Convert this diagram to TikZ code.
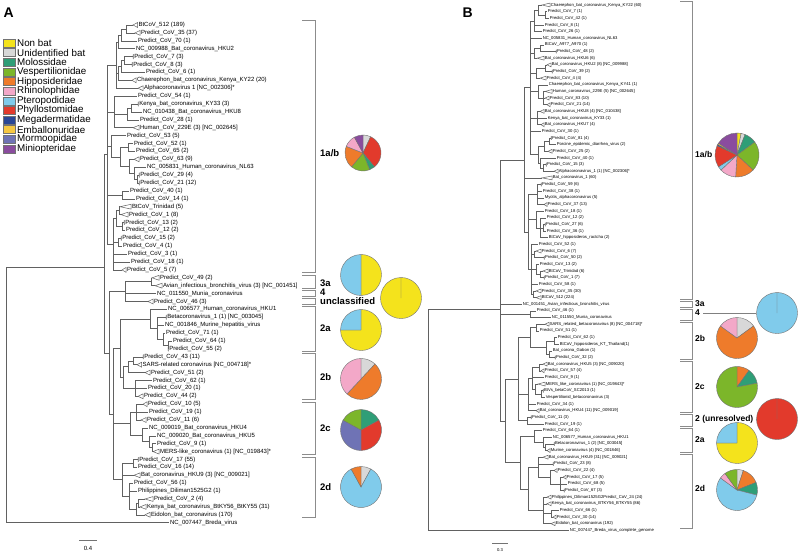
\documentclass[tikz,border=0pt]{standalone}
\usepackage{fontspec}
\setmainfont{Liberation Sans}
\usetikzlibrary{calc}
\definecolor{nonbat}{HTML}{F4E31C}
\definecolor{unid}{HTML}{D8D8D8}
\definecolor{moloss}{HTML}{2F9E77}
\definecolor{vesper}{HTML}{7CB62A}
\definecolor{hippo}{HTML}{EE7B2B}
\definecolor{rhino}{HTML}{F3A8C8}
\definecolor{ptero}{HTML}{80CBEB}
\definecolor{phyllo}{HTML}{E23A2C}
\definecolor{mega}{HTML}{2A4796}
\definecolor{emball}{HTML}{F6C842}
\definecolor{mormo}{HTML}{6F73B5}
\definecolor{minio}{HTML}{8A4C9E}
\tikzset{
 br/.style={draw=black!62, line width=0.5pt},
 tri/.style={draw=black!62, line width=0.5pt, fill=white},
 labA/.style={anchor=west, inner sep=0pt, font=\fontsize{6}{7}\selectfont},
 labB/.style={anchor=west, inner sep=0pt, font=\fontsize{4.2}{5}\selectfont},
 brk/.style={draw=black!45, line width=1pt},
 cladeA/.style={anchor=west, inner sep=0pt, font=\bfseries\fontsize{9.5}{10}\selectfont},
 cladeB/.style={anchor=west, inner sep=0pt, font=\bfseries\fontsize{8.5}{9}\selectfont},
 pieline/.style={draw=black!55, line width=0.4pt},
 legbox/.style={draw=black!55, line width=0.4pt, minimum width=12pt, minimum height=8pt, inner sep=0pt},
 legtxt/.style={anchor=west, inner sep=0pt, font=\fontsize{9.8}{11}\selectfont},
 panel/.style={font=\bfseries\fontsize{14}{16}\selectfont, inner sep=0pt},
 conn/.style={draw=black!50, line width=0.5pt},
 sbar/.style={draw=black!55, line width=1pt},
}
% A leaves: name, index, x, text
\newcommand\aL[4]{\coordinate (#1) at (#3,{-(25+(#2-1)*7.9)}); \node[labA] (#1t) at ($(#1)+(0.8,0)$) {#4};}
\newcommand\aT[5]{\coordinate (#1) at (#3,{-(25+(#2-1)*7.9)}); \draw[tri] (#1) -- ++(#4,2.4) -- ++(0,-4.8) -- cycle; \node[labA] (#1t) at ($(#1)+(#4+0.8,0)$) {#5};}
% B leaves
\newcommand\bL[4]{\coordinate (#1) at (#3,{-(5+(#2-1)*6.65)}); \node[labB] (#1t) at ($(#1)+(0.6,0)$) {#4};}
\newcommand\bT[5]{\coordinate (#1) at (#3,{-(5+(#2-1)*6.65)}); \draw[tri] (#1) -- ++(#4,1.9) -- ++(0,-3.8) -- cycle; \node[labB] (#1t) at ($(#1)+(#4+0.6,0)$) {#5};}
% internal node: name, x, first child, last child, children
\newcommand\NC[5]{\path let \p1=($(#3)!0.5!(#4)$) in coordinate (#1) at (#2pt,\y1);
  \foreach \ch in {#5}{\draw[br] (#1) |- (\ch);}}
% internal node at a given y: name, x, y, children
\newcommand\NY[4]{\coordinate (#1) at (#2,-#3);
  \foreach \ch in {#4}{\draw[br] (#1) |- (\ch);}}
\newcommand\BRK[4]{\draw[brk] (#2,-#3) -| (#1,-#4) -- (#2,-#4);}
\newcommand\PIE[5]{%
 \node[circle, inner sep=0pt, minimum size=#4*2pt] (#1) at (#2,-#3) {};
 \gdef\cum{0}%
 \foreach \pv/\pc in {#5}{%
   \pgfmathsetmacro\angA{90-3.6*\cum}%
   \pgfmathsetmacro\angB{90-3.6*(\cum+\pv)}%
   \filldraw[pieline, fill=\pc] (#1.center) -- ++(\angA:#4) arc[start angle=\angA, end angle=\angB, radius=#4] -- cycle;%
   \pgfmathsetmacro\cumn{\cum+\pv}%
   \global\let\cum\cumn}%
}
\begin{document}
\begin{tikzpicture}[x=1pt,y=1pt]
\useasboundingbox (0,0) rectangle (800,-553);
\fill[white] (0,0) rectangle (800,-553);
\node[panel, anchor=north west] (pA) at (3.5,-7.5) {A};
\node[panel, anchor=north west] (pB) at (462.5,-7.5) {B};
% legend
\foreach \i/\col/\txt in {0/nonbat/Non bat,1/unid/Unidentified bat,2/moloss/Molossidae,3/vesper/Vespertilionidae,4/hippo/Hipposideridae,5/rhino/Rhinolophidae,6/ptero/Pteropodidae,7/phyllo/Phyllostomidae,8/mega/Megadermatidae,9/emball/Emballonuridae,10/mormo/Mormoopidae,11/minio/Miniopteridae}{
  \node[legbox, fill=\col] (lb\i) at (9,{-(43+\i*9.63)}) {};
  \node[legtxt] (lt\i) at (17,{-(43+\i*9.63)}) {\txt};
}
% ---------------- Tree A ----------------
\aT{L1}{1}{133}{4.5}{BtCoV\_512 (189)}
\aT{L2}{2}{135}{5}{Predict\_CoV\_35 (37)}
\aL{L3}{3}{137}{Predict\_CoV\_70 (1)}
\aL{L4}{4}{135}{NC\_009988\_Bat\_coronavirus\_HKU2}
\aT{L5}{5}{133}{0.3}{Predict\_CoV\_7 (3)}
\aT{L6}{6}{132}{0.3}{Predict\_CoV\_8 (3)}
\aL{L7}{7}{145}{Predict\_CoV\_6 (1)}
\aT{L8}{8}{132}{4}{Chaerephon\_bat\_coronavirus\_Kenya\_KY22 (20)}
\aT{L9}{9}{138}{5}{Alphacoronavirus 1 [NC\_002306]*}
\aL{L10}{10}{137}{Predict\_CoV\_54 (1)}
\aT{L11}{11}{138}{0.3}{Kenya\_bat\_coronavirus\_KY33 (3)}
\aL{L12}{12}{142}{NC\_010438\_Bat\_coronavirus\_HKU8}
\aL{L13}{13}{139}{Predict\_CoV\_28 (1)}
\aT{L14}{14}{133}{6}{Human\_CoV\_229E (3) [NC\_002645]}
\aL{L15}{15}{126}{Predict\_CoV\_53 (5)}
\aL{L16}{16}{133}{Predict\_CoV\_52 (1)}
\aL{L17}{17}{135}{Predict\_CoV\_65 (2)}
\aT{L18}{18}{134}{5}{Predict\_CoV\_63 (9)}
\aL{L19}{19}{146}{NC\_005831\_Human\_coronavirus\_NL63}
\aT{L20}{20}{139}{0.3}{Predict\_CoV\_29 (4)}
\aT{L21}{21}{139}{0.3}{Predict\_CoV\_21 (12)}
\aL{L22}{22}{129}{Predict\_CoV\_40 (1)}
\aL{L23}{23}{135}{Predict\_CoV\_14 (1)}
\aT{L24}{24}{120}{11}{BtCoV\_Trinidad (5)}
\aT{L25}{25}{121}{7}{Predict\_CoV\_1 (8)}
\aT{L26}{26}{124}{0.3}{Predict\_CoV\_13 (2)}
\aL{L27}{27}{125}{Predict\_CoV\_12 (2)}
\aT{L28}{28}{121}{0.3}{Predict\_CoV\_15 (2)}
\aL{L29}{29}{122}{Predict\_CoV\_4 (1)}
\aL{L30}{30}{127}{Predict\_CoV\_3 (1)}
\aL{L31}{31}{130}{Predict\_CoV\_18 (1)}
\aT{L32}{32}{122}{4}{Predict\_CoV\_5 (7)}
\aT{L33}{33}{152}{7}{Predict\_CoV\_49 (2)}
\aT{L34}{34}{155}{7}{Avian\_infectious\_bronchitis\_virus (3) [NC\_001451]}
\aL{L35}{35}{156}{NC\_011550\_Munia\_coronavirus}
\aT{L36}{36}{148}{5}{Predict\_CoV\_46 (3)}
\aL{L37}{37}{167}{NC\_006577\_Human\_coronavirus\_HKU1}
\aT{L38}{38}{166}{0.3}{Betacoronavirus\_1 (1) [NC\_003045]}
\aL{L39}{39}{164}{NC\_001846\_Murine\_hepatitis\_virus}
\aL{L40}{40}{165}{Predict\_CoV\_71 (1)}
\aL{L41}{41}{172}{Predict\_CoV\_64 (1)}
\aT{L42}{42}{168}{0.3}{Predict\_CoV\_55 (2)}
\aT{L43}{43}{143}{0.3}{Predict\_CoV\_43 (11)}
\aT{L44}{44}{137}{4.5}{SARS-related coronavirus [NC\_004718]*}
\aT{L45}{45}{145}{5}{Predict\_CoV\_51 (2)}
\aL{L46}{46}{152}{Predict\_CoV\_62 (1)}
\aL{L47}{47}{147}{Predict\_CoV\_20 (1)}
\aT{L48}{48}{138}{5}{Predict\_CoV\_44 (2)}
\aT{L49}{49}{143}{4}{Predict\_CoV\_10 (5)}
\aL{L50}{50}{148}{Predict\_CoV\_19 (1)}
\aT{L51}{51}{141}{5}{Predict\_CoV\_11 (6)}
\aL{L52}{52}{148}{NC\_009019\_Bat\_coronavirus\_HKU4}
\aL{L53}{53}{156}{NC\_009020\_Bat\_coronavirus\_HKU5}
\aL{L54}{54}{156}{Predict\_CoV\_9 (1)}
\aT{L55}{55}{153}{6}{MERS-like\_coronavirus (1) [NC\_019843]*}
\aT{L56}{56}{138}{0.3}{Predict\_CoV\_17 (55)}
\aL{L57}{57}{137}{Predict\_CoV\_16 (14)}
\aT{L58}{58}{134}{6}{Bat\_coronavirus\_HKU9 (3) [NC\_009021]}
\aL{L59}{59}{133}{Predict\_CoV\_56 (1)}
\aL{L60}{60}{137}{Philippines\_Diliman1525G2 (1)}
\aT{L61}{61}{145}{8}{Predict\_CoV\_2 (4)}
\aT{L62}{62}{140}{6}{Kenya\_bat\_coronavirus\_BtKY56\_BtKY55 (31)}
\aT{L63}{63}{145}{5}{Eidolon\_bat\_coronavirus (170)}
\aL{L64}{64}{169}{NC\_007447\_Breda\_virus}
% internal A
\NC{a11}{126}{L1}{L2}{L1,L2}
\NC{a1a}{121}{a11}{L3}{a11,L3}
\NC{a1b}{118}{a1a}{L4}{a1a,L4}
\NC{a1c}{124}{L5}{L6}{L5,L6}
\NC{a1d}{121}{a1c}{L7}{a1c,L7}
\NC{a1e}{118}{a1d}{L8}{a1d,L8}
\NC{a1}{116}{a1b}{L9}{a1b,a1e,L9}
\NC{a2a}{131}{L11}{L12}{L11,L12}
\NC{a2b}{127}{a2a}{L13}{a2a,L13}
\NC{a2}{114}{L10}{L14}{L10,a2b,L14}
\NC{a3a}{128}{L16}{L17}{L16,L17}
\NC{a3b}{137}{L20}{L21}{L20,L21}
\NC{a3d}{134}{L19}{a3b}{L19,a3b}
\NC{a3c}{129}{L18}{a3d}{L18,a3d}
\NC{a3e}{120}{a3a}{a3c}{a3a,a3c}
\NC{a3}{111}{L15}{a3e}{L15,a3e}
\NC{a4a}{122}{L22}{L23}{L22,L23}
\NC{a4b}{119}{L24}{L25}{L24,L25}
\NC{a4c}{122}{L26}{L27}{L26,L27}
\NC{a4d}{116}{a4b}{a4c}{a4b,a4c}
\NC{a4e}{118}{L28}{L29}{L28,L29}
\NC{a4f}{113}{a4d}{L32}{a4d,a4e,L30,L31,L32}
\NC{nA}{107}{a1}{a4f}{a1,a2,a3,a4a,a4f}
\NC{g1}{151}{L33}{L34}{L33,L34}
\NC{nGD}{125}{g1}{L36}{g1,L35,L36}
\NC{b2a1}{168}{L41}{L42}{L41,L42}
\NC{b2a2}{163}{L40}{b2a1}{L40,b2a1}
\NC{b2a3}{157}{L38}{b2a2}{L38,L39,b2a2}
\NC{b2a}{150}{L37}{b2a3}{L37,b2a3}
\NC{b2b1}{133}{L43}{L44}{L43,L44}
\NC{b2b2}{128}{b2b1}{L45}{b2b1,L45}
\NC{b2b3}{135}{L46}{L48}{L46,L47,L48}
\NC{b2b}{123}{b2b2}{b2b3}{b2b2,b2b3}
\NC{b2c1}{136}{L49}{L51}{L49,L50,L51}
\NC{b2c2}{152}{L54}{L55}{L54,L55}
\NC{b2c3}{149}{L53}{b2c2}{L53,b2c2}
\NC{b2c4}{142}{L52}{b2c3}{L52,b2c3}
\NC{b2c}{130}{b2c1}{b2c4}{b2c1,b2c4}
\NC{b2d1}{133}{L56}{L57}{L56,L57}
\NC{b2d2}{138}{L61}{L62}{L61,L62}
\NC{b2d3}{136}{b2d2}{L63}{b2d2,L63}
\NC{b2d4}{129}{L59}{b2d3}{L59,L60,b2d3}
\NC{b2d}{122}{b2d1}{b2d4}{b2d1,L58,b2d4}
\NC{nB1}{120}{b2a}{b2b}{b2a,b2b}
\NC{nBeta}{113}{nB1}{b2d}{nB1,b2c,b2d}
\NC{nBGD}{109}{nGD}{nBeta}{nGD,nBeta}
\NY{nI}{104}{267}{nA,nBGD}
\NC{r0}{6}{nI}{L64}{nI,L64}
% brackets A
\BRK{315}{302}{21}{273}
\BRK{315}{302}{275.5}{288}
\BRK{315}{302}{290.5}{296.5}
\BRK{315}{302}{298.5}{304}
\BRK{315}{302}{306.5}{351}
\BRK{315}{302}{353.5}{399.5}
\BRK{315}{302}{402}{454.5}
\BRK{315}{302}{457}{517}
\node[cladeA] (cA1) at (320,-153) {1a/b};
\node[cladeA] (cA2) at (320,-283) {3a};
\node[cladeA] (cA3) at (320,-292.5) {4};
\node[cladeA] (cA4) at (320,-301.5) {unclassified};
\node[cladeA] (cA5) at (320,-328) {2a};
\node[cladeA] (cA6) at (320,-377) {2b};
\node[cladeA] (cA7) at (320,-428) {2c};
\node[cladeA] (cA8) at (320,-487) {2d};
\PIE{pA1}{363}{153}{18}{7/unid,32/phyllo,5/moloss,17/vesper,20/hippo,11/rhino,8/minio}
\PIE{pA2}{361}{275}{20.5}{50/nonbat,50/ptero}
\PIE{pA3}{401}{298}{20.5}{100/nonbat}
\PIE{pA4}{361}{330}{20.5}{75/nonbat,25/ptero}
\PIE{pA5}{361}{379}{20.5}{12/unid,50/hippo,38/rhino}
\PIE{pA6}{361}{430}{20.5}{17/moloss,33/phyllo,33/mormo,17/vesper}
\PIE{pA7}{361}{487}{20.5}{8/unid,84/ptero,8/hippo}
\coordinate (sa1) at (79,-540); \coordinate (sa2) at (97,-540);
\draw[sbar] (sa1) -- (sa2);
\node[labA, anchor=center] (sa) at (88,-548) {0.4};
% ---------------- Tree B ----------------
\bT{B1}{1}{542}{8}{Chaerephon\_bat\_coronavirus\_Kenya\_KY22 (60)}
\bL{B2}{2}{547}{Predict\_CoV\_7 (1)}
\bL{B3}{3}{549}{Predict\_CoV\_42 (1)}
\bL{B4}{4}{544}{Predict\_CoV\_8 (1)}
\bL{B5}{5}{542}{Predict\_CoV\_26 (1)}
\bL{B6}{6}{542}{NC\_005831\_Human\_coronavirus\_NL63}
\bL{B7}{7}{544}{BtCoV\_A977\_A970 (1)}
\bT{B8}{8}{556}{0.3}{Predict\_CoV\_48 (2)}
\bT{B9}{9}{537}{7}{Bat\_coronavirus\_HKU6 (6)}
\bT{B10}{10}{547}{4}{Bat\_coronavirus\_HKU2 (8) [NC\_009988]}
\bT{B11}{11}{552}{0.3}{Predict\_CoV\_39 (2)}
\bT{B12}{12}{540}{6}{Predict\_CoV\_4 (4)}
\bL{B13}{13}{548}{Chaerephon\_bat\_coronavirus\_Kenya\_KY41 (1)}
\bT{B14}{14}{545}{7}{Human\_coronavirus\_229E (5) [NC\_002645]}
\bT{B15}{15}{545}{4}{Predict\_CoV\_83 (10)}
\bT{B16}{16}{547}{3}{Predict\_CoV\_21 (14)}
\bT{B17}{17}{540}{4}{Bat\_coronavirus\_HKU8 (4) [NC\_010438]}
\bL{B18}{18}{547}{Kenya\_bat\_coronavirus\_KY33 (1)}
\bT{B19}{19}{541}{3}{Bat\_coronavirus\_HKU7 (4)}
\bL{B20}{20}{541}{Predict\_CoV\_30 (1)}
\bT{B21}{21}{551}{0.3}{Predict\_CoV\_81 (4)}
\bL{B22}{22}{556}{Porcine\_epidemic\_diarrhea\_virus (2)}
\bT{B23}{23}{548}{4}{Predict\_CoV\_25 (2)}
\bL{B24}{24}{556}{Predict\_CoV\_40 (1)}
\bT{B25}{25}{546}{0.3}{Predict\_CoV\_15 (3)}
\bT{B26}{26}{554}{4}{Alphacoronavirus\_1 (1) [NC\_002306]*}
\bT{B27}{27}{542}{10}{Bat\_coronavirus\_1 (60)}
\bT{B28}{28}{541}{0.3}{Predict\_CoV\_59 (6)}
\bL{B29}{29}{542}{Predict\_CoV\_38 (1)}
\bL{B30}{30}{544}{Myotis\_alphacoronavirus (5)}
\bT{B31}{31}{544}{3}{Predict\_CoV\_37 (13)}
\bL{B32}{32}{544}{Predict\_CoV\_18 (1)}
\bL{B33}{33}{546}{Predict\_CoV\_12 (2)}
\bT{B34}{34}{545}{0.3}{Predict\_CoV\_27 (6)}
\bL{B35}{35}{546}{Predict\_CoV\_36 (1)}
\bL{B36}{36}{548}{BtCoV\_hipposideros\_ractcha (2)}
\bL{B37}{37}{538}{Predict\_CoV\_52 (1)}
\bT{B38}{38}{536}{5}{Predict\_CoV\_6 (7)}
\bT{B39}{39}{544}{0.3}{Predict\_CoV\_50 (2)}
\bL{B40}{40}{539}{Predict\_CoV\_13 (2)}
\bT{B41}{41}{543}{5}{BtCoV\_Trinidad (6)}
\bT{B42}{42}{544}{0.3}{Predict\_CoV\_1 (7)}
\bL{B43}{43}{538}{Predict\_CoV\_58 (1)}
\bT{B44}{44}{536}{5}{Predict\_CoV\_35 (30)}
\bT{B45}{45}{536}{5}{BtCoV\_512 (224)}
\bL{B46}{46}{522}{NC\_001451\_Avian\_infectious\_bronchitis\_virus}
\bL{B47}{47}{536}{Predict\_CoV\_46 (1)}
\bL{B48}{48}{551}{NC\_011550\_Munia\_coronavirus}
\bT{B49}{49}{545}{4}{SARS\_related\_betacoronavirus (8) [NC\_004718]*}
\bL{B50}{50}{539}{Predict\_CoV\_51 (1)}
\bL{B51}{51}{557}{Predict\_CoV\_62 (1)}
\bL{B52}{52}{559}{BtCoV\_hipposideros\_KT\_Thailand(1)}
\bL{B53}{53}{552}{Bat\_corona\_Gabon (1)}
\bT{B54}{54}{555}{0.3}{Predict\_CoV\_32 (2)}
\bT{B55}{55}{543}{4}{Bat\_coronavirus\_HKU5 (3) [NC\_009020]}
\bT{B56}{56}{541}{3}{Predict\_CoV\_57 (4)}
\bL{B57}{57}{544}{Predict\_CoV\_9 (1)}
\bT{B58}{58}{538}{7}{MERS\_like\_coronavirus (1) [NC\_019843]*}
\bT{B59}{59}{543}{0.3}{BtVs\_betaCoV\_SC2013 (1)}
\bL{B60}{60}{545}{Vespertilionid\_betacoronavirus (3)}
\bL{B61}{61}{536}{Predict\_CoV\_34 (1)}
\bT{B62}{62}{536}{3}{Bat\_coronavirus\_HKU4 (11) [NC\_009019]}
\bT{B63}{63}{531}{0.3}{Predict\_CoV\_11 (3)}
\bL{B64}{64}{544}{Predict\_CoV\_19 (1)}
\bL{B65}{65}{542}{Predict\_CoV\_64 (1)}
\bL{B66}{66}{552}{NC\_006577\_Human\_coronavirus\_HKU1}
\bT{B67}{67}{554}{0.3}{Betacoronavirus\_1 (2) [NC\_003045]}
\bT{B68}{68}{547}{3}{Murine\_coronavirus (4) [NC\_001846]}
\bT{B69}{69}{543}{5}{Bat\_coronavirus\_HKU9 (31) [NC\_009021]}
\bT{B70}{70}{553}{0.3}{Predict\_CoV\_23 (8)}
\bT{B71}{71}{554}{3}{Predict\_CoV\_22 (4)}
\bT{B72}{72}{563}{3}{Predict\_CoV\_17 (5)}
\bL{B73}{73}{567}{Predict\_CoV\_68 (5)}
\bT{B74}{74}{564}{0.3}{Predict\_CoV\_67 (3)}
\bT{B75}{75}{547}{4}{Philippines\_Diliman1525G2Predict\_CoV\_24 (24)}
\bT{B76}{76}{547}{4}{Kenya\_bat\_coronavirus\_BTKY56\_BTKY55 (86)}
\bL{B77}{77}{559}{Predict\_CoV\_66 (1)}
\bT{B78}{78}{553}{3}{Predict\_CoV\_30 (14)}
\bT{B79}{79}{551}{4}{Eidolon\_bat\_coronavirus (192)}
\bL{B80}{80}{569}{NC\_007447\_Breda\_virus\_complete\_genome}
% internal B
\NC{c1}{545}{B2}{B3}{B2,B3}
\NC{c2}{538}{B1}{c1}{B1,c1}
\NC{c3}{534}{c2}{B5}{c2,B4,B5}
\NC{c4}{540}{B7}{B8}{B7,B8}
\NC{c5}{534}{c4}{B9}{c4,B9}
\NC{c6}{545}{B10}{B11}{B10,B11}
\NC{c7}{536}{c6}{B12}{c6,B12}
\NC{c8}{543}{B14}{B16}{B14,B15,B16}
\NC{c9}{538}{B13}{c8}{B13,c8}
\NC{c10}{537}{B17}{B19}{B17,B18,B19}
\NC{c11}{549}{B21}{B22}{B21,B22}
\NC{c12}{544}{c11}{B23}{c11,B23}
\NC{c13}{543}{B25}{B26}{B25,B26}
\NC{c14}{540}{B24}{c13}{B24,c13}
\NC{c15}{538}{c12}{c14}{c12,c14}
\NC{aBu}{530}{c3}{c15}{c3,B6,c5,c7,c9,c10,B20,c15}
\NC{c16}{537}{B28}{B31}{B28,B29,B30,B31}
\NC{c17}{543}{B34}{B35}{B34,B35}
\NC{c18}{540}{B33}{B36}{B33,c17,B36}
\NC{c19}{536}{B32}{c18}{B32,c18}
\NC{c20}{534}{B38}{B39}{B38,B39}
\NC{c21}{540}{B41}{B42}{B41,B42}
\NC{c22}{536}{B40}{c21}{B40,c21}
\NC{c23}{533}{B44}{B45}{B44,B45}
\NC{c24}{531}{B37}{c23}{B37,c20,c22,B43,c23}
\NC{aBl}{528}{c16}{c24}{c16,c19,c24}
\NC{aB}{524}{aBu}{aBl}{aBu,B27,aBl}
\NC{d1}{530}{B47}{B48}{B47,B48}
\NC{e1}{536}{B49}{B50}{B49,B50}
\NC{e2}{554}{B51}{B52}{B51,B52}
\NC{e3}{549}{B53}{B54}{B53,B54}
\NC{e4}{546}{e2}{e3}{e2,e3}
\NC{e5}{530}{e1}{e4}{e1,e4}
\NC{f1}{539}{B55}{B56}{B55,B56}
\NC{f2}{541}{B59}{B60}{B59,B60}
\NC{f3}{535}{B58}{f2}{B58,f2}
\NC{f4}{532}{f1}{f3}{f1,B57,f3}
\NC{f5}{528}{f4}{B62}{f4,B61,B62}
\NC{g2}{527}{B63}{B64}{B63,B64}
\NC{h1}{545}{B67}{B68}{B67,B68}
\NC{h2}{543}{B66}{h1}{B66,h1}
\NC{h3}{534}{B65}{h2}{B65,h2}
\NC{i1}{560}{B72}{B74}{B72,B73,B74}
\NC{i2}{550}{B71}{i1}{B71,i1}
\NC{i3}{538}{B69}{i2}{B69,B70,i2}
\NC{i4}{551}{B77}{B78}{B77,B78}
\NC{i5}{543}{B75}{B79}{B75,B76,i4,B79}
\NC{i6}{528}{i3}{i5}{i3,i5}
\NC{bb1}{518}{e5}{g2}{e5,f5,g2}
\NC{bb2}{520}{h3}{i6}{h3,i6}
\NC{beta}{505}{bb1}{bb2}{bb1,bb2}
\NY{ing}{500}{309}{aB,B46,d1,beta}
\NC{rB}{428}{ing}{B80}{ing,B80}
% brackets B
\BRK{692}{680}{2}{299.5}
\BRK{692}{680}{301.5}{307.5}
\BRK{692}{680}{309.5}{320}
\BRK{692}{680}{322}{359.5}
\BRK{692}{680}{361.5}{412.5}
\BRK{692}{680}{414.5}{426}
\BRK{692}{680}{428}{452}
\BRK{692}{680}{454}{528}
\node[cladeB] (cB1) at (695,-155) {1a/b};
\node[cladeB] (cB2) at (695,-303.5) {3a};
\node[cladeB] (cB3) at (695,-313) {4};
\node[cladeB] (cB4) at (695,-338) {2b};
\node[cladeB] (cB5) at (695,-387) {2c};
\node[cladeB] (cB6) at (695,-419) {2 (unresolved)};
\node[cladeB] (cB7) at (695,-440) {2a};
\node[cladeB] (cB8) at (695,-488) {2d};
\PIE{pB1}{737}{155}{22}{3/nonbat,3/unid,9/moloss,22/vesper,14/hippo,12/rhino,3/ptero,16/phyllo,1/mega,1/emball,16/minio}
\PIE{pB2}{777}{313}{20.5}{100/ptero}
\PIE{pB3}{737}{338}{20.5}{15/unid,70/hippo,15/rhino}
\PIE{pB4}{737}{387}{20.5}{10/hippo,12/moloss,78/vesper}
\PIE{pB5}{777}{419}{20.5}{100/phyllo}
\PIE{pB6}{737}{443}{20.5}{75/nonbat,25/ptero}
\PIE{pB7}{737}{490}{20.5}{5/unid,14/hippo,10/moloss,56/ptero,5/rhino,10/vesper}
\draw[conn] ([xshift=3pt]cB3.east) -- (pB2.west);
\draw[conn] ([xshift=2pt]cB6.east) -- (pB5.west);
\coordinate (sb1) at (492,-543); \coordinate (sb2) at (508,-543);
\draw[sbar] (sb1) -- (sb2);
\node[labB, anchor=center] (sb) at (500,-550) {0.3};
\end{tikzpicture}
\end{document}
